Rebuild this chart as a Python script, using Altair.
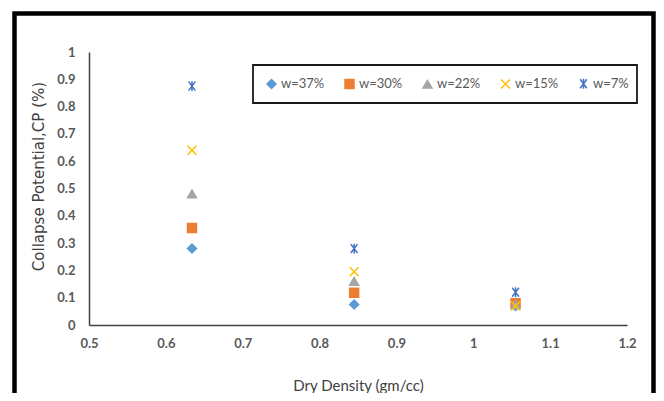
import altair as alt
import pandas as pd

# ---- data ----
density = [0.634, 0.845, 1.055]
series_names = ["w=37%", "w=30%", "w=22%", "w=15%", "w=7%"]
cp_w37 = [0.28, 0.075, 0.07]
cp_w30 = [0.355, 0.118, 0.08]
cp_w22 = [0.48, 0.16, 0.075]
cp_w15 = [0.64, 0.195, 0.07]
cp_w7 = [0.875, 0.28, 0.12]
x_ticks = [0.5, 0.6, 0.7, 0.8, 0.9, 1.0, 1.1, 1.2]
y_ticks = [0, 0.1, 0.2, 0.3, 0.4, 0.5, 0.6, 0.7, 0.8, 0.9, 1.0]

rows = []
for name, vals in zip(series_names, [cp_w37, cp_w30, cp_w22, cp_w15, cp_w7]):
    for d, v in zip(density, vals):
        rows.append({"density": d, "cp": v, "series": name})
df = pd.DataFrame(rows)

# ---- styles ----
stroke_colors = ["#5B9BD5", "#ED7D31", "#A5A5A5", "#FFC000", "#4472C4"]
fill_colors = ["#5B9BD5", "#ED7D31", "#A5A5A5", "transparent", "transparent"]
shapes = ["diamond", "square", "triangle-up",
          "M-1,-1L1,1M-1,1L1,-1",
          "M-0.75,-1L0.75,1M-0.75,1L0.75,-1M0,-1.1L0,1.1"]
sizes = [80, 80, 90, 110, 140]

tick_font = "Lato"
label_color = "#595959"

leg = alt.Legend(title=None, orient="none", legendX=176, legendY=25,
                 direction="horizontal", columns=5, gridAlign="all",
                 columnPadding=17, labelOffset=3, labelFontSize=13,
                 labelFont=tick_font, labelColor=label_color,
                 symbolStrokeWidth=1.5, symbolType="circle")

points = alt.Chart(df).mark_point(opacity=1, strokeWidth=1.5).encode(
    x=alt.X("density:Q",
            scale=alt.Scale(domain=[0.5, 1.2], nice=False, zero=False),
            axis=alt.Axis(values=x_ticks, title="Dry Density (gm/cc)",
                          labelExpr="format(datum.value, '.1~f')",
                          labelFlush=False, labelPadding=12,
                          titleY=60, titleBaseline="middle")),
    y=alt.Y("cp:Q",
            scale=alt.Scale(domain=[0, 1], nice=False),
            axis=alt.Axis(values=y_ticks, title="Collapse Potential,CP (%)",
                          labelExpr="format(datum.value, '.1~f')",
                          labelFlush=False, labelPadding=14,
                          titleX=-51, titleY=124,
                          titleAngle=270, titleAlign="center",
                          titleBaseline="middle",
                          titleFont="DejaVu Sans", titleFontSize=15,
                          titleFontWeight="normal")),
    shape=alt.Shape("series:N", scale=alt.Scale(domain=series_names, range=shapes), legend=leg),
    stroke=alt.Stroke("series:N", scale=alt.Scale(domain=series_names, range=stroke_colors), legend=leg),
    fill=alt.Fill("series:N", scale=alt.Scale(domain=series_names, range=fill_colors), legend=leg),
    size=alt.Size("series:N", scale=alt.Scale(domain=series_names, range=sizes), legend=leg),
)

one = pd.DataFrame({"a": [0]})
legend_box = alt.Chart(one).mark_rect(fill="white", stroke="#1a1a1a", strokeWidth=1.8).encode(
    x=alt.value(164), x2=alt.value(548), y=alt.value(13), y2=alt.value(51))
frame = alt.Chart(one).mark_rect(fill="transparent", stroke="#000000", strokeWidth=4.5).encode(
    x=alt.value(-74.5), x2=alt.value(564.5), y=alt.value(-38.5), y2=alt.value(400))

chart = alt.layer(frame, legend_box, points).properties(
    width=538, height=273,
    autosize=alt.AutoSizeParams(type="none"),
    padding={"left": 81, "top": 44, "right": 29, "bottom": 68},
).configure_view(strokeWidth=0).configure_axis(
    grid=False, ticks=False, domainColor="#404040", domainWidth=1.5,
    labelFont=tick_font, labelFontSize=13, labelFontWeight="bold",
    labelColor=label_color, titleFont=tick_font, titleFontSize=15,
    titleFontWeight="normal", titleColor="#404040",
)

chart.save("out.html", embed_options={"renderer": "svg", "actions": False})
